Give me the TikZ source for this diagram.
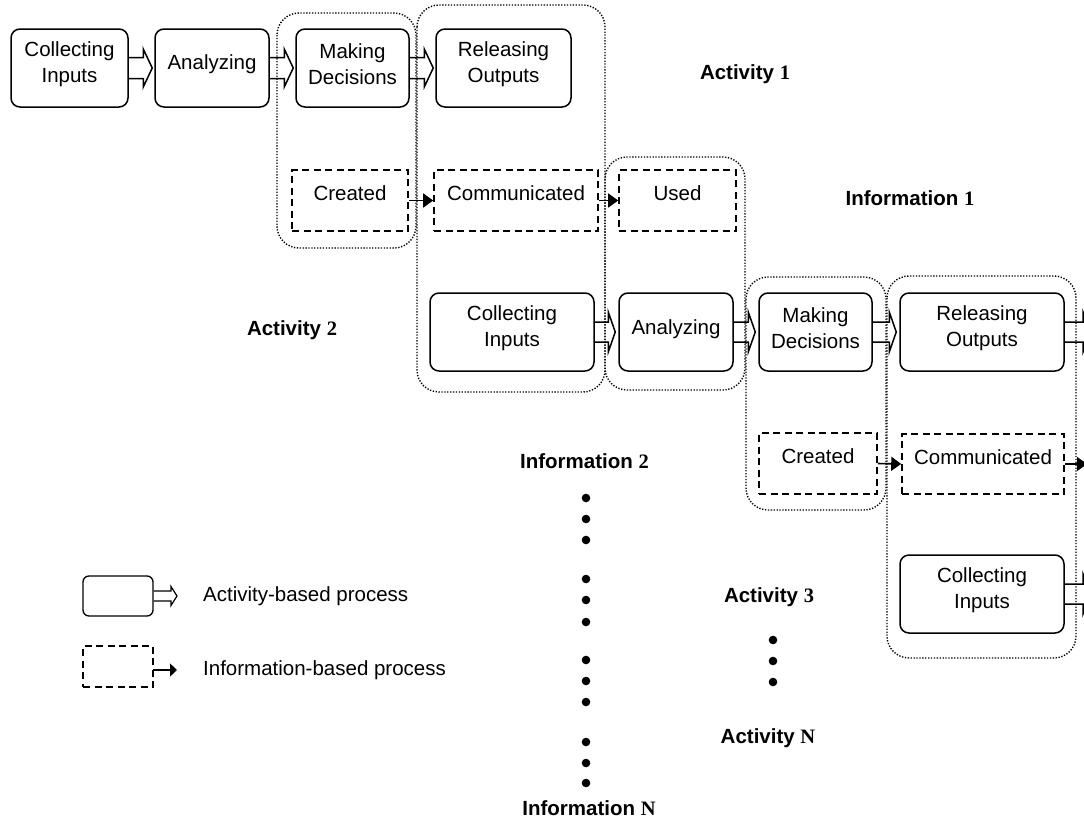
\documentclass[tikz,border=0pt]{standalone}
\usepackage{fontspec}
\setmainfont{Liberation Sans}
\newfontfamily\numfont{Liberation Serif}
\usetikzlibrary{calc,arrows.meta}
\newcommand{\actarrow}[5]{%
  \draw[actline] let \p1=(#1.east), \p2=(#2) in
  (\x1,\y1+#3) -- (\x2-#5,\y1+#3) -- (\x2-#5,\y1+#4) -- (\x2,\y1)
  -- (\x2-#5,\y1-#4) -- (\x2-#5,\y1-#3) -- (\x1,\y1-#3);}
\begin{document}
\begin{tikzpicture}[x=1pt,y=-1pt,
  actbox/.style={draw, rounded corners=9pt, line width=1.5pt, inner sep=0pt},
  infobox/.style={draw, dash pattern=on 7pt off 4.5pt, line width=1.6pt, inner sep=0pt},
  grp/.style={draw, rounded corners=22pt, line width=1.4pt, dash pattern=on 1.3pt off 1.6pt},
  txt/.style={font=\fontsize{20.5}{26}\selectfont, align=center, inner sep=0pt},
  bl/.style={font=\fontsize{20.5}{26}\selectfont\bfseries, inner sep=0pt},
  actline/.style={line width=1.5pt, line join=miter},
  infoarr/.style={line width=1.6pt, -{Triangle[length=10pt,width=14pt]}}
]
\useasboundingbox (0,0) rectangle (1084,830);
\clip (0,0) rectangle (1084,830);

% groups
\draw[grp] (277,13) rectangle (416,248);
\draw[grp] (417,5) rectangle (605,392);
\draw[grp] (605,157) rectangle (745,390);
\draw[grp] (746,277) rectangle (886,510);
\draw[grp] (887,276) rectangle (1076,658);

% row 1 activities
\node[actbox, minimum width=117pt, minimum height=78pt] (a1c) at (69.5,68) {};
\node[txt] (a1ct) at ([yshift=4pt]a1c.center) {Collecting\\Inputs};
\node[actbox, minimum width=114pt, minimum height=78pt] (a1a) at (212,68) {};
\node[txt] (a1at) at ([yshift=4pt]a1a.center) {Analyzing};
\node[actbox, minimum width=113pt, minimum height=78pt] (a1m) at (352.5,68) {};
\node[txt] (a1mt) at ([yshift=4pt]a1m.center) {Making\\Decisions};
\node[actbox, minimum width=135pt, minimum height=78pt] (a1r) at (503.5,68) {};
\node[txt] (a1rt) at ([yshift=4pt]a1r.center) {Releasing\\Outputs};

\actarrow{a1c}{[xshift=-2pt]a1a.west}{10.5pt}{19pt}{9pt}
\actarrow{a1a}{[xshift=-2pt]a1m.west}{10.5pt}{19pt}{9pt}
\actarrow{a1m}{[xshift=-2pt]a1r.west}{10.5pt}{19pt}{9pt}

% row 1 information
\node[infobox, minimum width=116pt, minimum height=61pt] (i1c) at (350,200.5) {};
\node[txt] (i1ct) at ([yshift=7pt]i1c.center) {Created};
\node[infobox, minimum width=164pt, minimum height=61pt] (i1m) at (516,200.5) {};
\node[txt] (i1mt) at ([yshift=7pt]i1m.center) {Communicated};
\node[infobox, minimum width=117pt, minimum height=61pt] (i1u) at (677.5,200.5) {};
\node[txt] (i1ut) at ([yshift=7pt]i1u.center) {Used};
\draw[infoarr] (i1c.east) -- (i1m.west);
\draw[infoarr] (i1m.east) -- (i1u.west);

% row 2 activities
\node[actbox, minimum width=164pt, minimum height=78pt] (a2c) at (512,332) {};
\node[txt] (a2ct) at ([yshift=4pt]a2c.center) {Collecting\\Inputs};
\node[actbox, minimum width=114pt, minimum height=78pt] (a2a) at (676,332) {};
\node[txt] (a2at) at ([yshift=3pt]a2a.center) {Analyzing};
\node[actbox, minimum width=113pt, minimum height=78pt] (a2m) at (815.5,332) {};
\node[txt] (a2mt) at ([yshift=4pt]a2m.center) {Making\\Decisions};
\node[actbox, minimum width=164pt, minimum height=78pt] (a2r) at (982,332) {};
\node[txt] (a2rt) at ([yshift=4pt]a2r.center) {Releasing\\Outputs};
\coordinate (ex1) at (1091,332);

\actarrow{a2c}{[xshift=-3pt]a2a.west}{10pt}{20pt}{7pt}
\actarrow{a2a}{[xshift=-3pt]a2m.west}{10pt}{20pt}{7pt}
\actarrow{a2m}{[xshift=-3pt]a2r.west}{10pt}{20pt}{7pt}
\actarrow{a2r}{ex1}{10pt}{20pt}{8pt}

% row 2 information
\node[infobox, minimum width=118pt, minimum height=61pt] (i2c) at (818,463.5) {};
\node[txt] (i2ct) at ([yshift=7pt]i2c.center) {Created};
\node[infobox, minimum width=162pt, minimum height=60pt] (i2m) at (983,464) {};
\node[txt] (i2mt) at ([yshift=7pt]i2m.center) {Communicated};
\coordinate (ex3) at (1087,464);
\draw[infoarr] (i2c.east) -- (i2m.west);
\draw[infoarr] (i2m.east) -- (ex3);

% row 3 activity
\node[actbox, minimum width=164pt, minimum height=78pt] (a3c) at (982,594) {};
\node[txt] (a3ct) at ([yshift=4pt]a3c.center) {Collecting\\Inputs};
\coordinate (ex2) at (1091,594);
\actarrow{a3c}{ex2}{10pt}{20pt}{8pt}

% labels
\node[bl] (lA1) at (745,74) {Activity \numfont 1};
\node[bl] (lI1) at (910,198) {Information \numfont 1};
\node[bl] (lA2) at (292,330) {Activity \numfont 2};
\node[bl] (lI2) at (584.5,461) {Information \numfont 2};
\node[bl] (lIN) at (589,808) {Information \numfont N};
\node[bl] (lA3) at (769,597) {Activity \numfont 3};
\node[bl] (lAN) at (768,738) {Activity \numfont N};

% dots
\foreach \yy in {498,519,540,579,600,622,660,681,702,742,763,783}
  \fill (586,\yy) circle (4.3);
\foreach \yy in {640,661,682}
  \fill (773,\yy) circle (4.3);

% legend
\node[actbox, rounded corners=6pt, line width=1.3pt, minimum width=70pt, minimum height=40pt] (lgA) at (118,596) {};
\coordinate (lgAt) at (177,596);
\begin{scope}[actline/.append style={line width=1.2pt}]
\actarrow{lgA}{lgAt}{5pt}{9.5pt}{6pt}
\end{scope}
\node[txt, anchor=west] (lgAtxt) at (203,596) {Activity-based process};

\node[infobox, line width=1.3pt, minimum width=70pt, minimum height=41pt] (lgI) at (118,666.5) {};
\coordinate (lgIs) at (153,670);
\coordinate (lgIt) at (177,670);
\draw[line width=1.4pt, -{Triangle[length=7pt,width=13pt]}] (lgIs) -- (lgIt);
\node[txt, anchor=west] (lgItxt) at (203,670) {Information-based process};
\end{tikzpicture}
\end{document}
